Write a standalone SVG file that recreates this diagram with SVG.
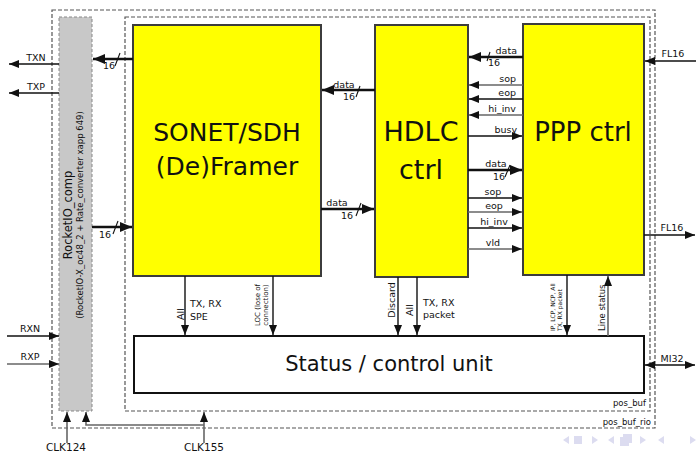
<svg xmlns="http://www.w3.org/2000/svg" width="696" height="455" viewBox="0 0 696 455">
<style>
text{font-family:"DejaVu Sans","Liberation Sans",sans-serif;fill:#111}
.blk{fill:#ffff00;stroke:#3c3c3c;stroke-width:2}
.title{font-size:26px;text-anchor:middle}
.lbl{font-size:9.5px}
.mid{text-anchor:middle}
.end{text-anchor:end}
.w{stroke:#111;stroke-width:1.4;fill:none}
.g{stroke:#666;stroke-width:1.6;fill:none}
.b{stroke:#111;stroke-width:2.6;fill:none}
.sl{stroke:#111;stroke-width:1.1}
.dash{fill:none;stroke:#555;stroke-width:1.2;stroke-dasharray:4 2}
.nav{fill:#dcdcf0;stroke:none}
</style>
<defs>
<marker id="a" markerUnits="userSpaceOnUse" markerWidth="10" markerHeight="8" refX="10" refY="4" orient="auto-start-reverse"><path d="M0,0L10,4L0,8z" fill="#111"/></marker>
<marker id="ag" markerUnits="userSpaceOnUse" markerWidth="10" markerHeight="8" refX="10" refY="4" orient="auto-start-reverse"><path d="M0,0L10,4L0,8z" fill="#111"/></marker>
<marker id="ab" markerUnits="userSpaceOnUse" markerWidth="12" markerHeight="10" refX="12" refY="5" orient="auto-start-reverse"><path d="M0,0L12,5L0,10z" fill="#111"/></marker>
</defs>

<g id="pos_buf_rio">
<rect class="dash" x="52" y="10" width="603" height="418"/>
<text class="lbl end" x="651" y="425" style="font-size:8.5px">pos_buf_rio</text>
</g>
<g id="pos_buf">
<rect class="dash" x="125" y="17" width="525" height="394"/>
<text class="lbl end" x="646" y="406" style="font-size:8.5px">pos_buf</text>
</g>

<g id="rocketio">
<rect x="59" y="17" width="33" height="394" fill="#c8c8c8" stroke="#888" stroke-width="1" stroke-dasharray="3 2"/>
<text transform="translate(72,215) rotate(-90)" text-anchor="middle" style="font-size:11.5px">RocketIO_comp</text>
<text transform="translate(83,215) rotate(-90)" text-anchor="middle" style="font-size:8.5px">(RocketIO-X_oc48_2 + Rate_converter xapp 649)</text>
</g>

<g id="sonet">
<rect class="blk" x="133" y="25" width="188" height="251"/>
<text class="title" x="227" y="141" style="font-size:25px">SONET/SDH</text>
<text class="title" x="227" y="175" style="font-size:25px">(De)Framer</text>
</g>

<g id="hdlc">
<rect class="blk" x="375" y="25" width="93" height="252"/>
<text class="title" x="421" y="141" style="font-size:27px">HDLC</text>
<text class="title" x="421" y="179" style="font-size:27px">ctrl</text>
</g>

<g id="ppp">
<rect class="blk" x="523" y="24" width="121" height="251"/>
<text class="title" x="583" y="141">PPP ctrl</text>
</g>

<g id="status">
<rect x="134" y="336" width="510" height="57" fill="#fff" stroke="#111" stroke-width="2"/>
<text x="389" y="371" text-anchor="middle" style="font-size:21px">Status / control unit</text>
</g>

<g id="connectors">
<line class="w" x1="59" y1="64" x2="9" y2="64" marker-end="url(#a)"/>
<text class="lbl mid" x="36" y="61">TXN</text>
<line class="w" x1="59" y1="93" x2="9" y2="93" marker-end="url(#a)"/>
<text class="lbl mid" x="36" y="90">TXP</text>
<line class="w" x1="7" y1="336" x2="59" y2="336" marker-end="url(#a)"/>
<text class="lbl mid" x="30" y="332">RXN</text>
<line class="g" x1="7" y1="364" x2="59" y2="364" marker-end="url(#ag)"/>
<text class="lbl mid" x="30" y="360">RXP</text>

<line class="b" x1="133" y1="59" x2="93" y2="59" marker-end="url(#ab)"/>
<line class="sl" x1="115" y1="66" x2="120" y2="53"/>
<text class="lbl" x="103" y="69">16</text>
<line class="b" x1="92" y1="227" x2="132" y2="227" marker-end="url(#ab)"/>
<line class="sl" x1="113" y1="234" x2="118" y2="221"/>
<text class="lbl" x="99" y="238">16</text>

<line class="b" x1="375" y1="90" x2="322" y2="90" marker-end="url(#ab)"/>
<text class="lbl mid" x="344" y="88">data</text>
<line class="sl" x1="356" y1="97" x2="360" y2="86"/>
<text class="lbl" x="343" y="100">16</text>
<line class="b" x1="321" y1="209" x2="374" y2="209" marker-end="url(#ab)"/>
<text class="lbl mid" x="337" y="206">data</text>
<line class="sl" x1="356" y1="216" x2="361" y2="203"/>
<text class="lbl" x="341" y="219">16</text>

<line class="b" x1="523" y1="57" x2="469" y2="57" marker-end="url(#ab)"/>
<text class="lbl end" x="517" y="54">data</text>
<line class="sl" x1="487" y1="61" x2="490" y2="52"/>
<text class="lbl" x="488" y="66">16</text>
<line class="g" x1="523" y1="85" x2="469" y2="85" marker-end="url(#ag)"/>
<text class="lbl end" x="516" y="82">sop</text>
<line class="w" x1="523" y1="99" x2="469" y2="99" marker-end="url(#a)"/>
<text class="lbl end" x="516" y="96">eop</text>
<line class="g" x1="523" y1="115" x2="469" y2="115" marker-end="url(#ag)"/>
<text class="lbl end" x="516" y="112">hi_inv</text>
<line class="w" x1="468" y1="136" x2="522" y2="136" marker-end="url(#a)"/>
<text class="lbl end" x="517" y="133">busy</text>

<line class="b" x1="468" y1="170" x2="522" y2="170" marker-end="url(#ab)"/>
<text class="lbl mid" x="496" y="167">data</text>
<line class="sl" x1="505" y1="177" x2="510" y2="165"/>
<text class="lbl" x="493" y="180">16</text>
<line class="w" x1="468" y1="198" x2="522" y2="198" marker-end="url(#a)"/>
<text class="lbl mid" x="493" y="195">sop</text>
<line class="g" x1="468" y1="212" x2="522" y2="212" marker-end="url(#ag)"/>
<text class="lbl mid" x="494" y="209">eop</text>
<line class="w" x1="468" y1="228" x2="522" y2="228" marker-end="url(#a)"/>
<text class="lbl mid" x="494" y="225">hi_inv</text>
<line class="g" x1="468" y1="249" x2="522" y2="249" marker-end="url(#ag)"/>
<text class="lbl mid" x="493" y="246">vld</text>

<line class="w" x1="696" y1="61" x2="645" y2="61" marker-end="url(#a)"/>
<text class="lbl mid" x="673" y="57">FL16</text>
<line class="w" x1="644" y1="235" x2="695" y2="235" marker-end="url(#a)"/>
<text class="lbl mid" x="672" y="231">FL16</text>
<line class="w" x1="645" y1="365" x2="695" y2="365" marker-start="url(#a)" marker-end="url(#a)"/>
<text class="lbl mid" x="672" y="362">MI32</text>

<line class="w" x1="185" y1="276" x2="185" y2="335" marker-end="url(#a)"/>
<text class="lbl" transform="translate(184,314) rotate(-90)" text-anchor="middle">All</text>
<text class="lbl" x="190" y="307">TX, RX</text>
<text class="lbl" x="190" y="320">SPE</text>
<line class="w" x1="273" y1="276" x2="273" y2="335" marker-end="url(#a)"/>
<text transform="translate(260,305) rotate(-90)" text-anchor="middle" style="font-size:7px">LOC (lose of</text>
<text transform="translate(268,305) rotate(-90)" text-anchor="middle" style="font-size:7px">connection)</text>
<line class="w" x1="398" y1="277" x2="398" y2="335" marker-end="url(#a)"/>
<text class="lbl" transform="translate(395,300) rotate(-90)" text-anchor="middle">Discard</text>
<line class="w" x1="417" y1="277" x2="417" y2="335" marker-end="url(#a)"/>
<text class="lbl" transform="translate(413,310) rotate(-90)" text-anchor="middle">All</text>
<text class="lbl" x="423" y="306">TX, RX</text>
<text class="lbl" x="423" y="318">packet</text>
<line class="w" x1="567" y1="275" x2="567" y2="335" marker-end="url(#a)"/>
<text transform="translate(555,331) rotate(-90)" style="font-size:6px">IP, LCP, NCP, All</text>
<text transform="translate(562,331) rotate(-90)" style="font-size:6px">TX, RX packet</text>
<line class="g" x1="608" y1="336" x2="608" y2="276" marker-end="url(#ag)"/>
<text transform="translate(605,331) rotate(-90)" style="font-size:8.5px">Line status</text>

<line class="g" x1="67" y1="443" x2="67" y2="412" marker-end="url(#ag)"/>
<line class="g" x1="204" y1="443" x2="204" y2="412" marker-end="url(#ag)"/>
<polyline class="g" points="204,425 86,425 86,412" marker-end="url(#ag)"/>
<text class="lbl mid" x="66" y="451" style="font-size:10.5px">CLK124</text>
<text class="lbl mid" x="204" y="451" style="font-size:10.5px">CLK155</text>
</g>

<g id="nav">
<path class="nav" d="M563,440l6,-4v8z"/>
<rect class="nav" x="574" y="436" width="8" height="8"/>
<path class="nav" d="M592,436l6,4l-6,4z"/>
<path class="nav" d="M608,440l6,-4v8z"/>
<rect class="nav" x="620" y="437" width="9" height="9"/>
<rect class="nav" x="623" y="434" width="9" height="9"/>
<path class="nav" d="M640,436l6,4l-6,4z"/>
<path class="nav" d="M658,440l6,-4v8z"/>
<path class="nav" d="M690,436l6,4l-6,4z"/>
</g>
</svg>
